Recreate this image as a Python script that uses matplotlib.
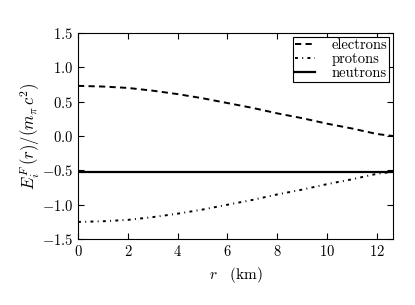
import matplotlib
matplotlib.use('Agg')
import matplotlib.pyplot as plt

plt.rcParams['font.family'] = 'serif'
plt.rcParams['font.serif'] = ['cmr10', 'DejaVu Serif']
plt.rcParams['mathtext.fontset'] = 'cm'
plt.rcParams['axes.formatter.use_mathtext'] = True

# values
r = [0, 1, 2, 3, 4, 5, 6, 7, 8, 9, 10, 11, 12, 12.65]
electrons = [0.73, 0.72, 0.70, 0.66, 0.61, 0.55, 0.48, 0.41, 0.33, 0.26, 0.18, 0.11, 0.03, 0.0]
protons = [-1.25, -1.24, -1.22, -1.18, -1.13, -1.07, -1.00, -0.93, -0.85, -0.78, -0.70, -0.63, -0.55, -0.52]
neutrons = [-0.52] * len(r)

fig = plt.figure(figsize=(4.15, 3.05), dpi=100)
ax = fig.add_axes([0.188, 0.216, 0.759, 0.676])

ax.plot(r, electrons, color='black', linestyle='--', dashes=(3.2, 2.2), lw=1.4, label='electrons')
ax.plot(r, protons, color='black', linestyle='-.', dashes=(1.5, 2.2, 0.5, 2.2), lw=1.4, label='protons')
ax.plot(r, neutrons, color='black', linestyle='-', lw=1.6, label='neutrons')

ax.set_xlim(0, 12.65)
ax.set_ylim(-1.5, 1.5)
ax.set_xticks([0, 2, 4, 6, 8, 10, 12])
ax.set_yticks([-1.5, -1.0, -0.5, 0.0, 0.5, 1.0, 1.5])
ax.set_yticklabels(['$-1.5$', '$-1.0$', '$-0.5$', '$0.0$', '$0.5$', '$1.0$', '$1.5$'])
ax.set_xticklabels(['$0$', '$2$', '$4$', '$6$', '$8$', '$10$', '$12$'])
ax.tick_params(direction='in', top=True, right=True, labelsize=10.5, length=4)
ax.set_xlabel(r'$r\quad(\mathrm{km})$', fontsize=11)
ax.set_ylabel(r'$E_i^F\,(r)/(m_\pi\, c^2)$', fontsize=12)
ax.yaxis.set_label_coords(-0.115, 0.5)

leg = ax.legend(loc='upper right', fontsize=10.5, fancybox=False, framealpha=1,
                handlelength=1.4, handletextpad=1.1, borderaxespad=0.25,
                borderpad=0.15, labelspacing=0.0)
leg.get_frame().set_edgecolor('black')
leg.get_frame().set_linewidth(0.8)

plt.savefig('out.png', dpi=100)
